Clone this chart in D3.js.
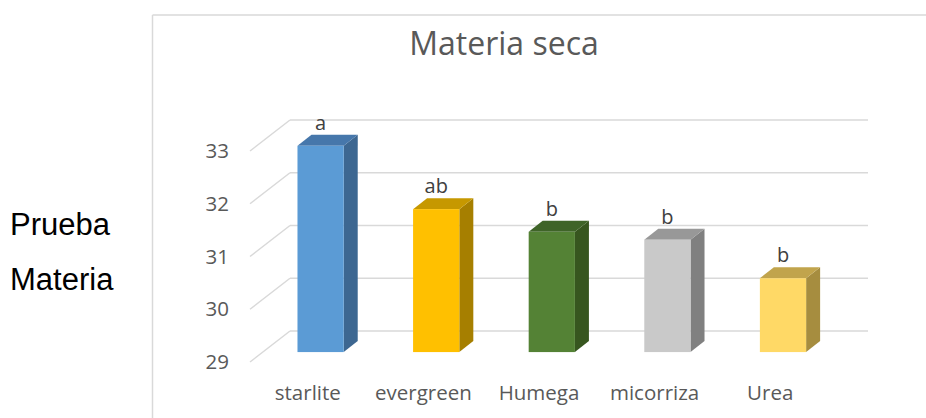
<!DOCTYPE html>
<html lang="es">
<head>
    <meta charset="UTF-8">
    <title>Materia seca</title>
    <script src="https://d3js.org/d3.v7.min.js"></script>
    <style>
        body { margin: 0; background: #fff; }
        svg { display: block; }
        .side-label { font-family: "Liberation Sans", Arial, sans-serif; font-size: 31px; fill: #000; }
        .chart-text { font-family: "Open Sans", sans-serif; fill: #595959; }
        .grid { stroke: #d9d9d9; stroke-width: 1.5; fill: none; }
    </style>
</head>
<body>
    <svg id="chart"></svg>
    <script>
        const categories = ["starlite", "evergreen", "Humega", "micorriza", "Urea"];
        const values = [32.91, 31.71, 31.28, 31.13, 30.40];
        const letters = ["a", "ab", "b", "b", "b"];
        const yTicks = [29, 30, 31, 32, 33];
        const frontColors = ["#5b9bd5", "#ffc000", "#548235", "#c9c9c9", "#ffd966"];
        const sideColors = ["#3d6791", "#a67f00", "#37561f", "#808080", "#a68d3f"];
        const topColors = ["#4677ab", "#c69800", "#3f6428", "#989898", "#c1a44c"];

        const width = 926, height = 418;
        const svg = d3.select("#chart").attr("width", width).attr("height", height);

        // back wall scales
        const x = d3.scaleBand().domain(categories).range([290, 868]);
        const y = d3.scaleLinear().domain([29, 33]).range([331, 120]);

        // depth vector from back wall to front edge of floor
        const depth = [-40, 31];
        const barPos = 0.68;      // bar front face position along depth
        const barDepth = [14, -11];
        const barW = x.bandwidth() * 0.4;

        // chart frame
        svg.append("line").attr("x1", 152.5).attr("x2", 152.5).attr("y1", 15).attr("y2", height)
            .attr("stroke", "#d9d9d9").attr("stroke-width", 1.5);
        svg.append("line").attr("x1", 152.5).attr("x2", width).attr("y1", 15).attr("y2", 15)
            .attr("stroke", "#d9d9d9").attr("stroke-width", 1.5);

        // left labels outside chart
        svg.append("text").attr("class", "side-label").attr("x", 10).attr("y", 235).text("Prueba");
        svg.append("text").attr("class", "side-label").attr("x", 10).attr("y", 290).text("Materia");

        // title
        svg.append("text").attr("class", "chart-text")
            .attr("x", 504).attr("y", 55)
            .attr("text-anchor", "middle")
            .style("font-size", "32px")
            .text("Materia seca");

        // gridlines: back wall + side wall diagonals
        const r0 = x.range()[0], r1 = x.range()[1];
        svg.selectAll(".grid-back").data(yTicks).enter().append("line")
            .attr("class", "grid")
            .attr("x1", r0).attr("x2", r1)
            .attr("y1", d => y(d)).attr("y2", d => y(d));
        svg.selectAll(".grid-side").data(yTicks).enter().append("line")
            .attr("class", "grid")
            .attr("x1", r0 + depth[0]).attr("y1", d => y(d) + depth[1])
            .attr("x2", r0).attr("y2", d => y(d));

        // y tick labels
        svg.selectAll(".ytick").data(yTicks).enter().append("text")
            .attr("class", "chart-text")
            .attr("x", 229)
            .attr("y", d => y(d) + depth[1])
            .attr("dy", "0.35em")
            .attr("text-anchor", "end")
            .style("font-size", "20.5px")
            .text(d => d);

        // bars
        const bars = categories.map((c, i) => {
            const cx = x(c) + x.bandwidth() / 2 + depth[0] * barPos;
            const x0 = cx - barW / 2;
            const yb = y(29) + depth[1] * barPos;
            const yt = y(values[i]) + depth[1] * barPos;
            return { i, cx, x0, x1: x0 + barW, yb, yt };
        });

        const g = svg.append("g");
        bars.forEach(b => {
            const [ox, oy] = barDepth;
            g.append("polygon")
                .attr("points", [[b.x1, b.yt], [b.x1 + ox, b.yt + oy], [b.x1 + ox, b.yb + oy], [b.x1, b.yb]].join(" "))
                .attr("fill", sideColors[b.i]);
            g.append("polygon")
                .attr("points", [[b.x0, b.yt], [b.x0 + ox, b.yt + oy], [b.x1 + ox, b.yt + oy], [b.x1, b.yt]].join(" "))
                .attr("fill", topColors[b.i]);
            g.append("rect")
                .attr("x", b.x0).attr("y", b.yt)
                .attr("width", barW).attr("height", b.yb - b.yt)
                .attr("fill", frontColors[b.i]);
        });

        // significance letters
        svg.selectAll(".letter").data(bars).enter().append("text")
            .attr("class", "chart-text")
            .attr("x", d => d.cx)
            .attr("y", d => d.yt - 16)
            .attr("text-anchor", "middle")
            .style("font-size", "20px")
            .style("fill", "#404040")
            .text(d => letters[d.i]);

        // category labels along front edge of floor
        svg.selectAll(".xlabel").data(categories).enter().append("text")
            .attr("class", "chart-text")
            .attr("x", d => x(d) + x.bandwidth() / 2 + depth[0])
            .attr("y", y(29) + 69)
            .attr("text-anchor", "middle")
            .style("font-size", "20.5px")
            .text(d => d);
    </script>
</body>
</html>
